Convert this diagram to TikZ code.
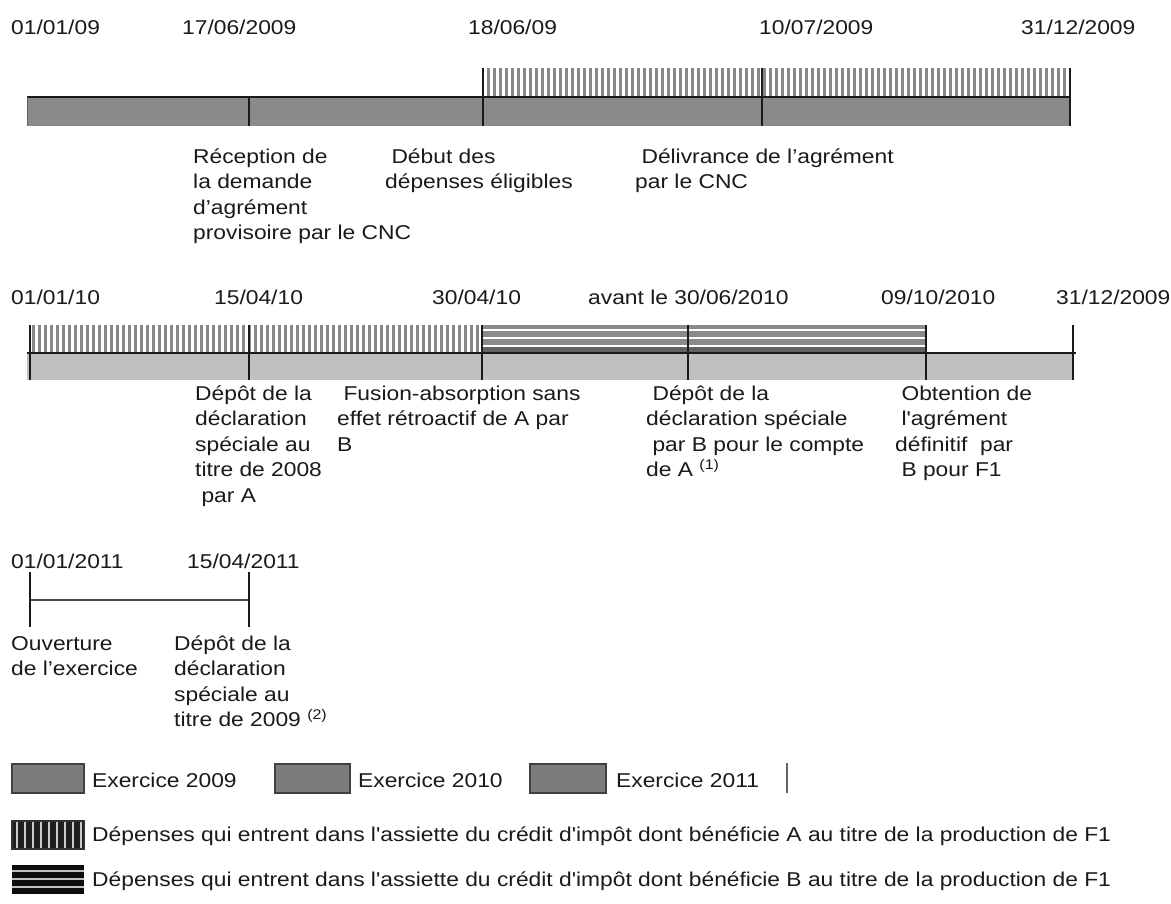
\documentclass[tikz,border=0pt]{standalone}
\usepackage{fontspec}
\setmainfont{Liberation Sans}[FakeStretch=1.14, Ligatures=TeXOff]
\newcommand\fsz{\fontsize{20}{25.5}\selectfont}
\newcommand\tstr{\rule{0pt}{16pt}}
\definecolor{barA}{HTML}{8A8A8A}
\definecolor{barB}{HTML}{C0C0C0}
\definecolor{stripe}{HTML}{888888}
\definecolor{legbox}{HTML}{7C7C7C}
\definecolor{ink}{HTML}{1A1A1A}
\tikzset{
  date/.style={anchor=base west, inner sep=0pt, font=\fsz, text=ink},
  lbl/.style={anchor=north west, inner sep=0pt, align=left, font=\fsz, text=ink},
  tickline/.style={draw=ink, line width=1.6pt},
  edge/.style={draw=ink, line width=1.6pt},
  vstripe/.style={draw=stripe, line width=3pt},
}
\begin{document}
\begin{tikzpicture}[x=1pt,y=-1pt]
\useasboundingbox[fill=white] (0,0) rectangle (1171,904);

% ---------------- Row 1 (2009) ----------------
\node[date] (d1a) at (11,35) {01/01/09};
\node[date] (d1b) at (182,35) {17/06/2009};
\node[date] (d1c) at (468,35) {18/06/09};
\node[date] (d1d) at (759,35) {10/07/2009};
\node[date] (d1e) at (1021,35) {31/12/2009};

\fill[barA] (27,97) rectangle (1070,126);
\fill[white] (485,68) rectangle (1070,97);
\begin{scope}
  \clip (485,68) rectangle (1070,97);
  \foreach \x in {488,494,...,1070} \draw[vstripe] (\x,68) -- (\x,97);
\end{scope}
\draw[edge] (27,97) -- (1070,97);
\draw[draw=ink!70, line width=1pt] (27,97) -- (27,126);
\draw[tickline] (249,97) -- (249,126);
\draw[tickline] (483,68) -- (483,126);
\draw[tickline] (762,68) -- (762,126);
\draw[tickline] (1070,68) -- (1070,126);

\node[lbl] (l1a) at (193,147) {\tstr R\'eception de\\la demande\\d’agr\'ement\\provisoire par le CNC};
\node[lbl] (l1b) at (385,147) {\tstr\ D\'ebut des\\d\'epenses \'eligibles};
\node[lbl] (l1c) at (635,147) {\tstr\ D\'elivrance de l’agr\'ement\\par le CNC};

% ---------------- Row 2 (2010) ----------------
\node[date] (d2a) at (11,305) {01/01/10};
\node[date] (d2b) at (214,305) {15/04/10};
\node[date] (d2c) at (432,305) {30/04/10};
\node[date] (d2d) at (588,305) {avant le 30/06/2010};
\node[date] (d2e) at (881,305) {09/10/2010};
\node[date] (d2f) at (1056,305) {31/12/2009};

\fill[barB] (27,353) rectangle (1073,380);
% vertical hatch
\fill[white] (30,325) rectangle (482,353);
\begin{scope}
  \clip (30,325) rectangle (482,353);
  \foreach \x in {33,39,...,482} \draw[vstripe] (\x,325) -- (\x,353);
\end{scope}
% horizontal hatch
\fill[barA] (482,325) rectangle (926,353);
\fill[black!62] (482,347) rectangle (926,353);
\foreach \y in {330,338,346} \draw[white, line width=1.5pt] (482,\y) -- (926,\y);
\draw[edge] (27,353) -- (1076,353);
\draw[tickline] (30,325) -- (30,380);
\draw[tickline] (249,325) -- (249,380);
\draw[tickline] (482,325) -- (482,380);
\draw[tickline] (688,325) -- (688,380);
\draw[tickline] (926,325) -- (926,380);
\draw[tickline] (1073,325) -- (1073,380);

\node[lbl] (l2a) at (195,384) {\tstr D\'ep\^ot de la\\d\'eclaration\\sp\'eciale au\\titre de 2008\\\ par A};
\node[lbl] (l2b) at (337,384) {\tstr\ Fusion-absorption sans\\effet r\'etroactif de A par\\B};
\node[lbl] (l2c) at (646,384) {\tstr\ D\'ep\^ot de la\\d\'eclaration sp\'eciale\\\ par B pour le compte\\de A \textsuperscript{(1)}};
\node[lbl] (l2d) at (895,384) {\tstr\ Obtention de\\\ l'agr\'ement\\d\'efinitif\ \ par\\\ B pour F1};

% ---------------- Row 3 (2011) ----------------
\node[date] (d3a) at (11,568) {01/01/2011};
\node[date] (d3b) at (187,568) {15/04/2011};
\draw[draw=ink!80, line width=1.5pt] (30,600) -- (249,600);
\draw[tickline] (30,572) -- (30,627);
\draw[tickline] (249,572) -- (249,627);
\node[lbl] (l3a) at (11,634) {\tstr Ouverture\\de l’exercice};
\node[lbl] (l3b) at (174,634) {\tstr D\'ep\^ot de la\\d\'eclaration\\sp\'eciale au\\titre de 2009 \textsuperscript{(2)}};

% ---------------- Legend ----------------
\draw[fill=legbox, draw=black!75, line width=1.5pt] (12,764) rectangle (84,793);
\node[date] (g1) at (92,787) {Exercice 2009};
\draw[fill=legbox, draw=black!75, line width=1.5pt] (275,764) rectangle (350,793);
\node[date] (g2) at (358,787) {Exercice 2010};
\draw[fill=legbox, draw=black!75, line width=1.5pt] (530,764) rectangle (606,793);
\node[date] (g3) at (616,787) {Exercice 2011};
\draw[draw=black!60, line width=1.2pt] (787,763) -- (787,793);

\fill[black!88] (12,821) rectangle (84,849);
\foreach \x in {17,25,...,82} \draw[draw=black!20, line width=2pt] (\x,821) -- (\x,849);
\draw[draw=black!80, line width=1.2pt] (12,821) rectangle (84,849);
\node[date] (g4) at (92,841) {D\'epenses qui entrent dans l'assiette du cr\'edit d'imp\^ot dont b\'en\'eficie A au titre de la production de F1};

\fill[black!95] (12,865) rectangle (84,894);
\foreach \y in {871,879,887} \draw[draw=black!25, line width=2.5pt] (12,\y) -- (84,\y);
\node[date] (g5) at (92,886) {D\'epenses qui entrent dans l'assiette du cr\'edit d'imp\^ot dont b\'en\'eficie B au titre de la production de F1};
\end{tikzpicture}
\end{document}
